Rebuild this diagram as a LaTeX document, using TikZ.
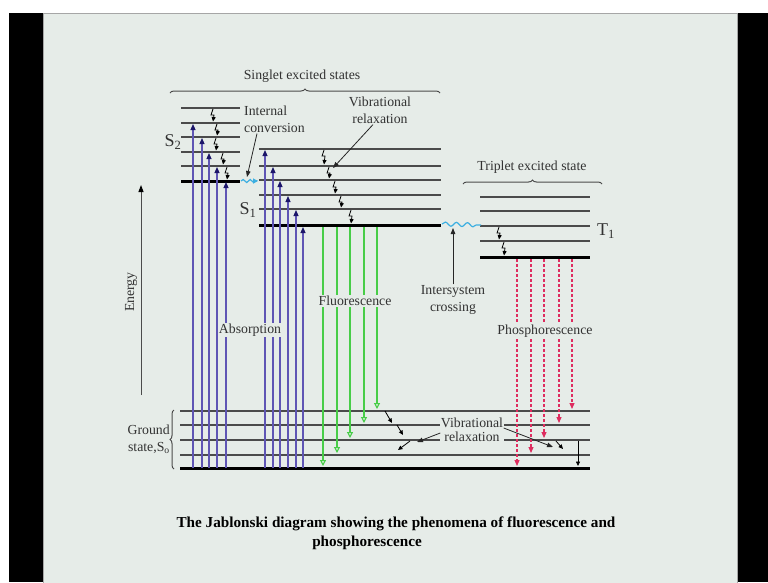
\documentclass[tikz,border=0pt]{standalone}
\usepackage{fontspec}
\setmainfont{Liberation Serif}
\usetikzlibrary{arrows.meta}
\usetikzlibrary{decorations.pathmorphing, decorations.pathreplacing}
\definecolor{slide}{RGB}{230,236,232}
\definecolor{levelgray}{RGB}{75,75,75}
\definecolor{labelgray}{RGB}{50,50,50}
\definecolor{absblue}{RGB}{95,85,180}
\definecolor{absnavy}{RGB}{28,22,105}
\definecolor{fluogreen}{RGB}{72,205,72}
\definecolor{phosred}{RGB}{222,45,95}
\definecolor{iscyan}{RGB}{60,175,225}
\tikzstyle{level} = [draw=levelgray, line width=1.6pt]
\tikzstyle{ground} = [draw=black, line width=3pt]
\tikzstyle{absorb} = [absblue, line width=1.1pt, -{Triangle[length=6pt,width=5pt,color=absnavy]}]
\tikzstyle{fluor} = [fluogreen, line width=1.1pt, -{Triangle[length=6pt,width=6pt,open]}]
\tikzstyle{phos} = [phosred, line width=1.1pt, dash pattern=on 3pt off 2pt, -{Triangle[length=6pt,width=5pt]}]
\tikzstyle{relax} = [black, line width=0.8pt, -{Triangle[length=4.5pt,width=4pt]}]
\tikzstyle{pointer} = [black!85, line width=0.8pt, -{Triangle[length=6pt,width=4.5pt]}]
\tikzstyle{wave} = [iscyan, line width=1.2pt, decorate, decoration={snake, amplitude=2pt, segment length=11pt}]
\tikzstyle{label} = [text=labelgray, font=\fontsize{13.8}{17}\selectfont, align=center, inner sep=1pt]
\tikzstyle{cover} = [label, fill=slide]
\tikzstyle{statename} = [text=labelgray, font=\fontsize{18}{18}\selectfont, inner sep=0pt]
\tikzstyle{brace} = [draw=levelgray, line width=1pt, decorate, decoration={brace, amplitude=4pt}]

\begin{document}
\begin{tikzpicture}[x=1pt, y=-1pt]
\useasboundingbox (0,0) rectangle (768,582);
\fill[white] (0,0) rectangle (768,582);
\fill[black] (9,13) rectangle (768,582);
\filldraw[fill=slide, draw=gray!70, line width=0.8pt] (43,13) rectangle (737,590);

% energy axis
\coordinate (elow) at (141,395);
\coordinate (ehigh) at (141,185);
\draw [levelgray, line width=1pt, -{Triangle[length=7pt,width=5pt,color=black]}] (elow) -- (ehigh);
\node (energy) [label, rotate=90] at (131,292) {Energy};

% vibrational levels
\foreach \y in {108,123,137,152,166} \draw [level] (181,\y) -- (240,\y);
\draw [ground] (181,181) -- (240,181);
\foreach \y in {149,166,180,195,209} \draw [level] (259,\y) -- (441,\y);
\draw [ground] (259,225) -- (441,225);
\foreach \y in {197,211,226,241} \draw [level] (480,\y) -- (590,\y);
\draw [ground] (480,257) -- (590,257);
\foreach \y in {411,425,440,455} \draw [level] (180,\y) -- (590,\y);
\draw [ground] (180,468) -- (590,468);

% state names
\node (s2) [statename] at (173,142) {S\textsubscript{2}};
\node (s1) [statename] at (248,210) {S\textsubscript{1}};
\node (t1) [statename, anchor=west] at (597,231) {T\textsubscript{1}};

% braces
\draw [brace] (170,93) -- (440,93);
\node (singlet) [label] at (302,76) {Singlet excited states};
\draw [brace] (463,184) -- (602,184);
\node (triplet) [label] at (532,167) {Triplet excited state};
\draw [brace] (174,469) -- (174,410);
\node (gstate) [label, align=right, anchor=east] at (171,439) {Ground\\state,S\textsubscript{o}};

% absorption
\foreach \x/\y [count=\i] in {193/124,202/138,209/153,217/167,226/182} {
  \coordinate (aa\i) at (\x,468);
  \coordinate (ab\i) at (\x,\y);
  \draw [absorb] (aa\i) -- (ab\i);
}
\foreach \x/\y [count=\i] in {265/150,273/167,280/181,288/196,296/210,303/227} {
  \coordinate (ac\i) at (\x,468);
  \coordinate (ad\i) at (\x,\y);
  \draw [absorb] (ac\i) -- (ad\i);
}
\node (absorption) [cover] at (250,330) {Absorption};

% fluorescence
\foreach \x/\y [count=\i] in {323/466,337/453,350/438,364/423,377/409} {
  \coordinate (fa\i) at (\x,227);
  \coordinate (fb\i) at (\x,\y);
  \draw [fluor] (fa\i) -- (fb\i);
}
\node (fluorescence) [cover] at (355,301) {Fluorescence};

% phosphorescence
\foreach \x/\y [count=\i] in {517/466,531/453,544/438,559/423,572/409} {
  \coordinate (pa\i) at (\x,259);
  \coordinate (pb\i) at (\x,\y);
  \draw [phos] (pa\i) -- (pb\i);
}
\node (phosphorescence) [cover] at (545,331) {Phosphorescence};

% vibrational relaxation steps
\foreach \x/\a/\b [count=\i] in {212/108/123,216/123/137,215/137/152,222/152/166,226/166/181,
    323/149/166,328/166/180,334/180/195,340/195/209,350/209/225,498/226/241,503/241/257} {
  \coordinate (rt\i) at (\x+1,\a+1);
  \coordinate (rb\i) at (\x+1,\b-1.5);
  \draw [relax] (rt\i) -- ++(-2,6) -- ++(3,0) -- (rb\i);
}

% internal conversion and intersystem crossing
\coordinate (s2end) at (241,181);
\coordinate (s1start) at (258,181);
\draw [wave, decoration={snake, amplitude=1.5pt, segment length=7pt}, -{Triangle[length=5pt,width=5pt]}] (s2end) -- (s1start);
\coordinate (s1end) at (442,224);
\coordinate (t1start) at (481,225);
\draw [wave] (s1end) -- (t1start);

\node (ic) [label, align=left, anchor=west] at (243,119) {Internal\\conversion};
\coordinate (icend) at (247,177);
\draw [pointer] ([xshift=14pt]ic.south west) -- (icend);

\node (vr) [label] at (380,110) {Vibrational\\relaxation};
\coordinate (vrend) at (333,168);
\draw [pointer] ([xshift=-7pt]vr.south) -- (vrend);

\node (isc) [label] at (453,300) {Intersystem\\crossing};
\coordinate (iscend) at (453,228);
\draw [pointer] (isc.north) -- (iscend);

% ground state relaxation
\foreach \x/\a/\u/\v [count=\i] in {385/411/392/423, 397/425/403/435, 410/441/398/450, 556/441/563/449} {
  \coordinate (ga\i) at (\x,\a);
  \coordinate (gb\i) at (\u,\v);
  \draw [relax] (ga\i) -- (gb\i);
}
\coordinate (gc) at (578,441);
\coordinate (gd) at (578,466);
\draw [relax] (gc) -- (gd);
\node (gvr) [cover, font=\fontsize{13.8}{14}\selectfont, inner sep=0.5pt] at (472,430) {Vibrational\\relaxation};
\coordinate (gvrleft) at (417,442);
\coordinate (gvrright) at (553,447);
\draw [pointer] ([yshift=-3pt]gvr.west) -- (gvrleft);
\draw [pointer] ([yshift=2pt]gvr.east) -- (gvrright);

% caption
\node (caption) [font=\bfseries\fontsize{15.2}{18}\selectfont, inner sep=0pt] at (396,524) {The Jablonski diagram showing the phenomena of fluorescence and};
\node (caption2) [font=\bfseries\fontsize{15.2}{18}\selectfont, inner sep=0pt] at (367,543) {phosphorescence};
\end{tikzpicture}
\end{document}
